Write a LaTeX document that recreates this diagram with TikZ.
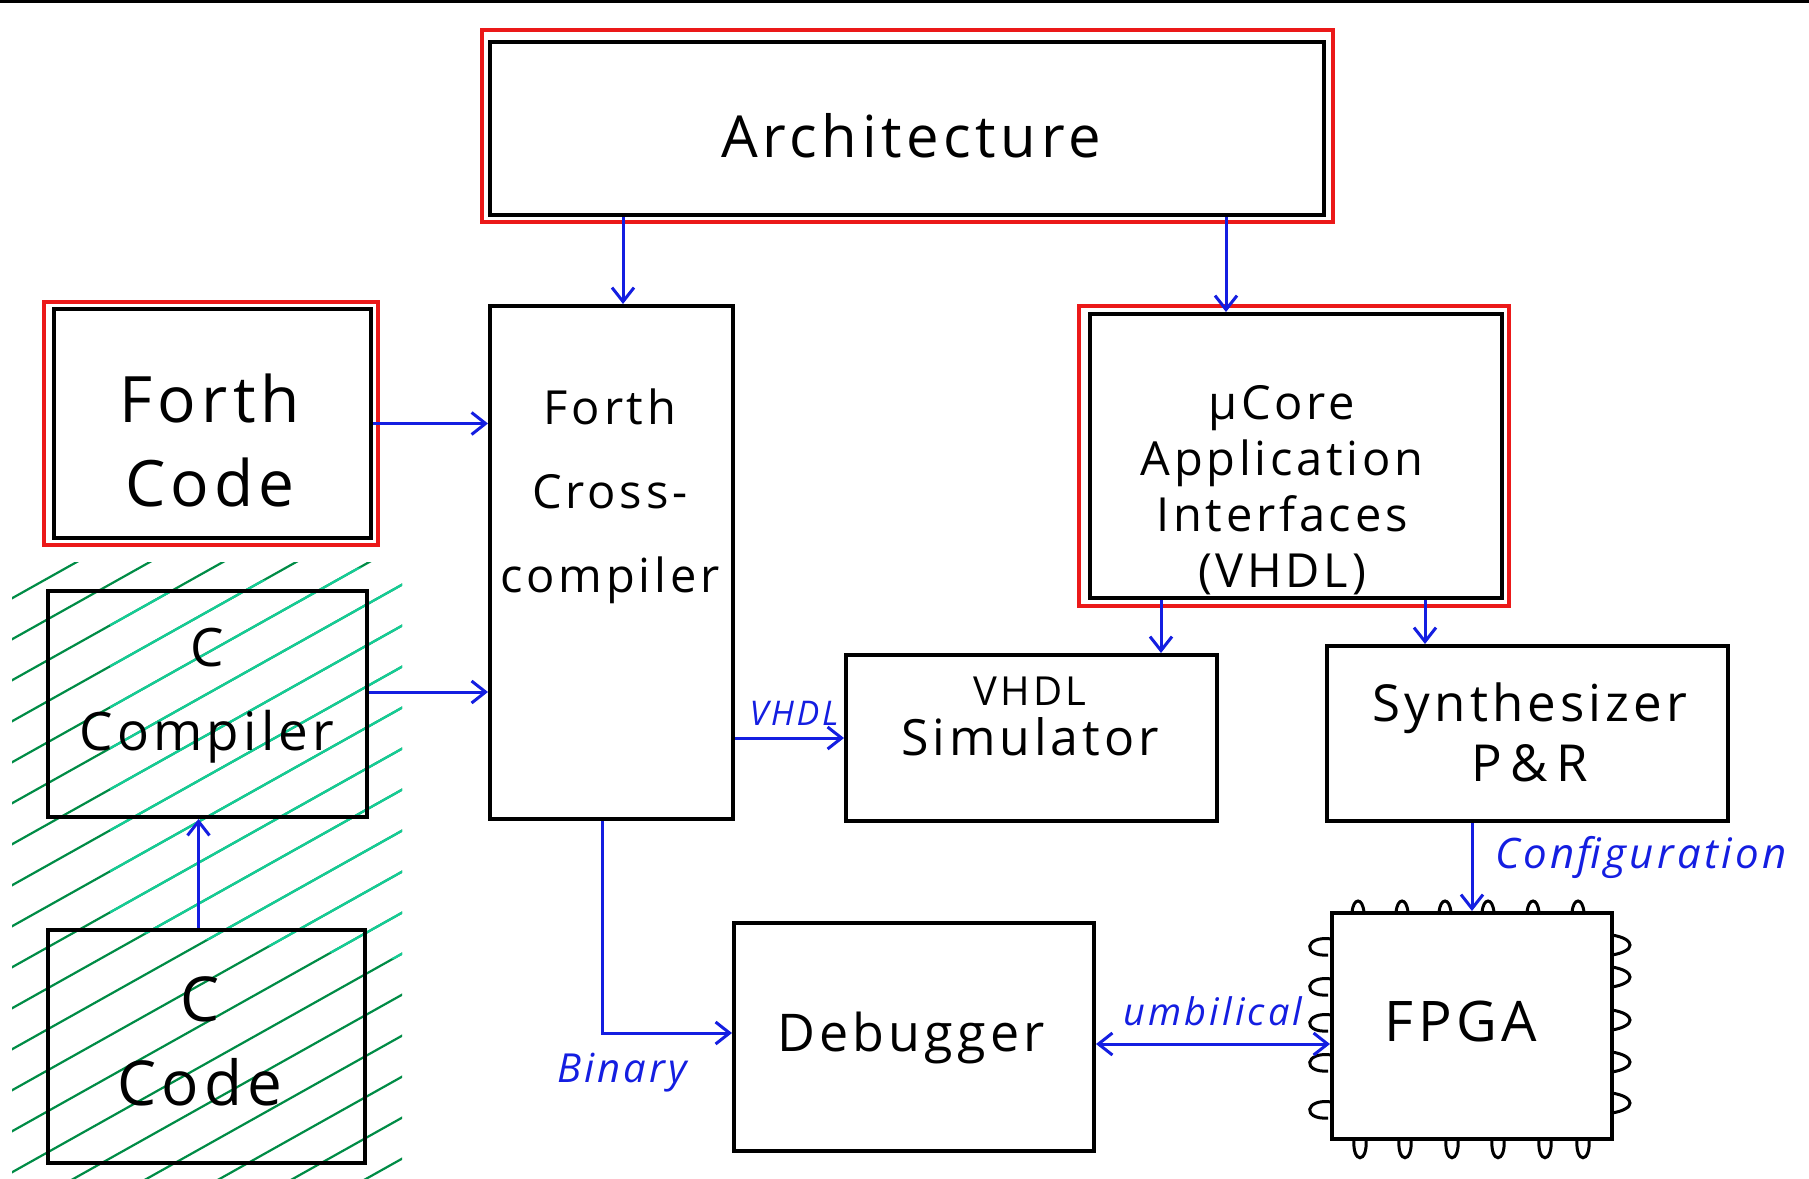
\documentclass[tikz,border=0pt]{standalone}
\usepackage{fontspec}
\setmainfont{Open Sans}
\newfontfamily\hand[LetterSpace=8]{Open Sans}
\usetikzlibrary{arrows.meta,calc}
\definecolor{penblue}{RGB}{20,30,225}
\definecolor{penred}{RGB}{235,25,25}
\definecolor{hatchdark}{RGB}{0,140,70}
\definecolor{hatchlight}{RGB}{20,205,150}
\begin{document}
\begin{tikzpicture}[x=1pt,y=-1pt,
  box/.style={draw=black,line width=4pt,inner sep=0pt},
  redbox/.style={draw=penred,line width=3.5pt,inner sep=0pt},
  txt/.style={align=center,inner sep=0pt,font=\hand\fontsize{#1}{84}\selectfont},
  lbl/.style={text=penblue,inner sep=0pt,font=\hand\itshape\fontsize{#1}{#1}\selectfont},
  arr/.style={draw=penblue,line width=3pt,-{Straight Barb[length=14pt,width=22pt,line width=3pt]}},
  darr/.style={draw=penblue,line width=3pt,{Straight Barb[length=14pt,width=22pt,line width=3pt]}-{Straight Barb[length=14pt,width=22pt,line width=3pt]}},
  hatch/.style={draw=#1,line width=2.2pt},
  pin/.style={draw=black,line width=3pt}]
\useasboundingbox (0,0) rectangle (1809,1178);
\fill[white] (0,0) rectangle (1809,1178);
\draw[line width=3pt] (0,1.5) -- (1809,1.5);

% hatching
\begin{scope}
  \clip (12,562) rectangle (402,1178);
  \foreach \k in {0,...,22} {
    \draw[hatch=hatchdark] (0,{605+41*\k}) -- (430,{605+41*\k-241});
  }
\end{scope}
\begin{scope}
  \clip (110,600) -- (402,562) -- (402,960) -- (110,930) -- cycle;
  \foreach \k in {0,...,22} {
    \draw[hatch=hatchlight] (0,{605+41*\k}) -- (430,{605+41*\k-241});
  }
\end{scope}

% boxes
\node[redbox,minimum width=851pt,minimum height=192pt] (archR) at (907.5,126) {};
\node[box,minimum width=834pt,minimum height=173pt] (arch) at (907,128.5) {};
\node[redbox,minimum width=334pt,minimum height=243pt] (forthR) at (211,423.5) {};
\node[box,minimum width=317pt,minimum height=229pt] (forth) at (212.5,423.5) {};
\node[box,minimum width=243pt,minimum height=513pt] (cc) at (611.5,562.5) {};
\node[box,minimum width=319pt,minimum height=226pt] (ccomp) at (207.5,704) {};
\node[box,minimum width=317pt,minimum height=233pt] (ccode) at (206.5,1046.5) {};
\node[redbox,minimum width=430pt,minimum height=300pt] (ucoreR) at (1294,456) {};
\node[box,minimum width=412pt,minimum height=284pt] (ucore) at (1296,456) {};
\node[box,minimum width=371pt,minimum height=166pt] (vsim) at (1031.5,738) {};
\node[box,minimum width=401pt,minimum height=175pt] (synth) at (1527.5,733.5) {};
\node[box,minimum width=360pt,minimum height=228pt] (dbg) at (914,1037) {};
\node[box,minimum width=280pt,minimum height=226pt] (fpga) at (1472,1026) {};

% box texts
\node[txt=58] (archT) at (911,136) {Architecture};
\node[txt=64] (forthT) at (210,440) {Forth\\Code};
\node[txt=47] (ccT) at (610,496) {Forth\\Cross-\\compiler};
\node[txt=53] (ccompT) at (207,696) {C\\Compiler};
\node[txt=62] (ccodeT) at (200,1041) {C\\Code};
\node[align=center,inner sep=0pt,font=\hand\fontsize{47}{56}\selectfont] (ucoreT) at (1282,490) {µCore\\Application\\Interfaces\\(VHDL)};
\node[align=center,inner sep=0pt,font=\hand\fontsize{50}{50}\selectfont] (vsimT) at (1030,716) {{\fontsize{40}{50}\selectfont VHDL}\\Simulator};
\node[align=center,inner sep=0pt,font=\hand\fontsize{51}{60}\selectfont] (synthT) at (1530,732) {Synthesizer\\P\,\&\,R};
\node[txt=52] (dbgT) at (911,1038) {Debugger};
\node[txt=56] (fpgaT) at (1461,1021) {FPGA};

% FPGA pins
\foreach \x in {1358,1402,1445,1488,1533,1578}
  \draw[pin] (\x-6,913) .. controls (\x-5,897) and (\x+5,897) .. (\x+6,913);
\foreach \x in {1360,1405,1452,1498,1545,1583}
  \draw[pin] (\x-6,1139) .. controls (\x-8,1164) and (\x+8,1164) .. (\x+6,1139);
\foreach \y in {947,987,1023,1063,1110}
  \draw[pin] (1332,\y-8) .. controls (1304,\y-12) and (1302,\y+10) .. (1328,\y+8);
\foreach \y in {945,977,1020,1062,1103}
  \draw[pin] (1612,\y-10) .. controls (1636,\y-6) and (1636,\y+6) .. (1612,\y+10);

% x positions of vertical connectors
\coordinate (ax1) at (623,0);
\coordinate (ax2) at (1226,0);
\coordinate (vx) at (1161,0);
\coordinate (sx) at (1425,0);

% connectors
\draw[arr] (arch.south -| ax1) -- (cc.north -| ax1);
\draw[arr] (arch.south -| ax2) -- (ucore.north -| ax2);
\draw[arr] (forth.east) -- (forth.east -| cc.west);
\draw[arr] ([yshift=12pt]ccomp.east) -- ([yshift=12pt]ccomp.east -| cc.west);
\draw[arr] ([xshift=-8pt]ccode.north) -- ([xshift=-8pt]ccode.north |- ccomp.south);
\draw[arr] (vsim.west -| cc.east) -- (vsim.west);
\draw[arr] (ucore.south -| vx) -- (vsim.north -| vx);
\draw[arr] (ucore.south -| sx) -- (synth.north -| sx);
\draw[arr] (synth.south -| fpga.north) -- (fpga.north);
\draw[arr] ([xshift=-9.5pt]cc.south) |- ([yshift=4pt]dbg.west);
\draw[darr] ([yshift=-7pt]dbg.east) -- ([yshift=-7pt]dbg.east -| fpga.west);

% connector labels
\node[lbl=34] (vhdlL) at (794,713) {VHDL};
\node[lbl=40] (binL) at (622,1073) {Binary};
\node[lbl=38] (umbL) at (1213,1011) {umbilical};
\node[lbl=42] (cfgL) at (1641,857) {Configuration};
\end{tikzpicture}
\end{document}
